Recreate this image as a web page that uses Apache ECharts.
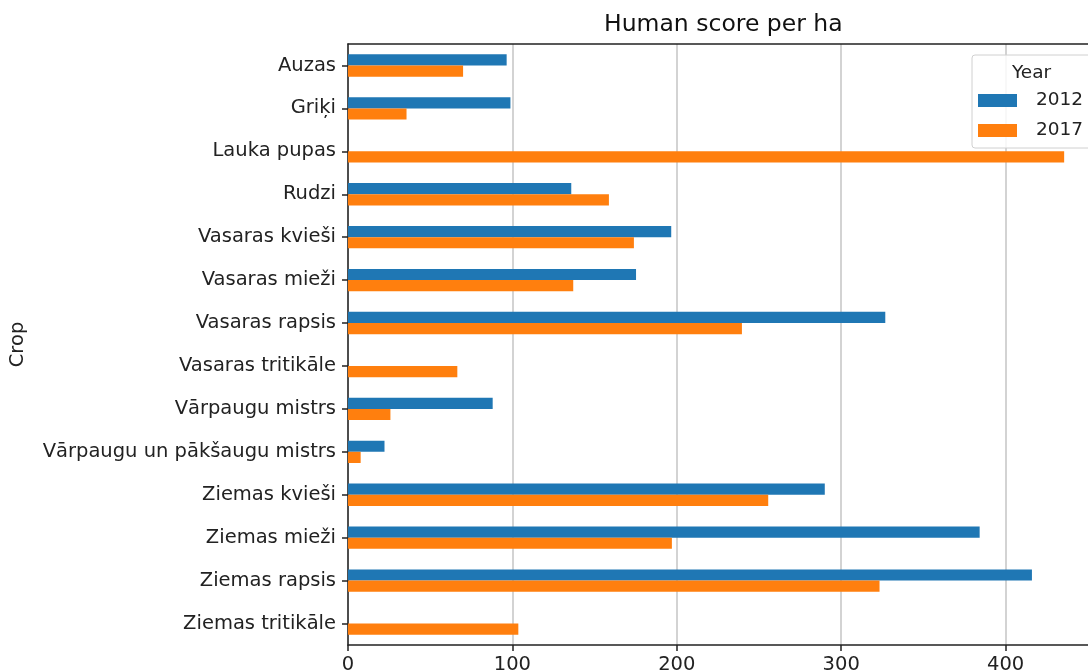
<!DOCTYPE html>
<html>
<head>
<meta charset="utf-8">
<script src="https://cdn.jsdelivr.net/npm/echarts@6/dist/echarts.min.js"></script>
<style>
  html, body { margin: 0; padding: 0; background: #fff; }
  #main { width: 1088px; height: 671px; }
</style>
</head>
<body>
<div id="main"></div>
<script>
// crops, top to bottom
const crops = ['Auzas', 'Griķi', 'Lauka pupas', 'Rudzi', 'Vasaras kvieši', 'Vasaras mieži',
  'Vasaras rapsis', 'Vasaras tritikāle', 'Vārpaugu mistrs', 'Vārpaugu un pākšaugu mistrs',
  'Ziemas kvieši', 'Ziemas mieži', 'Ziemas rapsis', 'Ziemas tritikāle']
// human score per ha, null = no data that year
const score2012 = [96.5, 98.8, null, 135.8, 196.6, 175.2, 326.8, null, 88, 22.2, 290, 384.2, 416, null]
const score2017 = [70, 35.6, 435.6, 158.7, 173.9, 137, 239.6, 66.5, 25.8, 7.7, 255.6, 197, 323.3, 103.6]
const years = ['2012', '2017']
const xMax = 457.4

const font = 'DejaVu Sans'
let myChart = echarts.init(document.getElementById('main'))

let option = {
  animation: false,
  textStyle: { fontFamily: font },
  title: [
    {
      text: 'Human score per ha',
      left: 599, top: 8,
      textStyle: { fontFamily: font, fontSize: 23.5, fontWeight: 'normal', color: '#111' }
    },
    {
      text: 'Year',
      left: 1007, top: 59,
      textStyle: { fontFamily: font, fontSize: 18.5, fontWeight: 'normal', color: '#222' }
    }
  ],
  legend: {
    data: years,
    orient: 'vertical',
    left: 972, top: 55,
    padding: [36, 20, 8, 6],
    itemWidth: 39, itemHeight: 13, itemGap: 11,
    icon: 'rect',
    backgroundColor: 'rgba(255,255,255,0.85)',
    borderColor: '#d0d0d0', borderWidth: 1, borderRadius: 3,
    textStyle: { fontFamily: font, fontSize: 18.5, color: '#222', padding: [0, 0, 0, 14] }
  },
  grid: { left: 348, right: -12, top: 44, bottom: 26, containLabel: false, outerBoundsMode: 'none' },
  xAxis: [
    {
      type: 'value', min: 0, max: xMax, interval: 100,
      axisLine: { show: true, lineStyle: { color: '#222', width: 1.5 } },
      axisTick: { show: true, length: 6, lineStyle: { color: '#222', width: 1.5 } },
      axisLabel: { fontSize: 19.5, color: '#222', margin: 10, fontFamily: font, showMaxLabel: false },
      splitLine: { show: true, lineStyle: { color: '#c4c4c4', width: 1.5 } }
    },
    {
      type: 'value', min: 0, max: xMax, position: 'top',
      axisLine: { show: true, lineStyle: { color: '#222', width: 1.5 } },
      axisTick: { show: false }, axisLabel: { show: false }, splitLine: { show: false }
    }
  ],
  yAxis: {
    type: 'category', data: crops, inverse: true,
    name: 'Crop', nameLocation: 'middle', nameGap: 320,
    nameTextStyle: { fontFamily: font, fontSize: 19.5, color: '#222' },
    axisLine: { show: true, lineStyle: { color: '#222', width: 1.5 } },
    axisTick: { show: true, alignWithLabel: true, length: 6, lineStyle: { color: '#222', width: 1.5 } },
    axisLabel: { fontSize: 19.5, color: '#222', margin: 12, fontFamily: font }
  },
  series: [
    {
      name: years[0], type: 'bar', data: score2012,
      barWidth: '26%', barGap: '0%',
      itemStyle: { color: '#1f77b4' }
    },
    {
      name: years[1], type: 'bar', data: score2017,
      barWidth: '26%', barGap: '0%',
      itemStyle: { color: '#ff7f0e' }
    }
  ]
}
myChart.setOption(option)
</script>
</body>
</html>
